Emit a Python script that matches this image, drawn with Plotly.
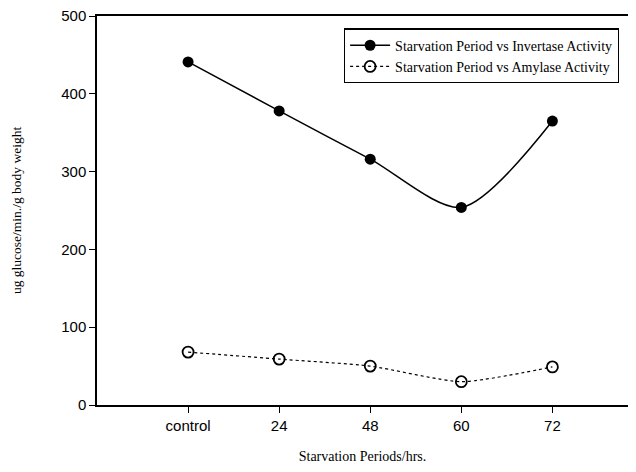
import plotly.graph_objects as go

categories = ["control", "24", "48", "60", "72"]
invertase = [441, 378, 316, 254, 365]
amylase = [68, 59, 50, 30, 49]
y_ticks = [0, 100, 200, 300, 400, 500]

xidx = list(range(len(categories)))

fig = go.Figure()
fig.add_trace(go.Scatter(
    x=xidx, y=invertase, mode="lines+markers",
    name="Starvation Period vs Invertase Activity",
    line=dict(color="black", width=1.5, shape="spline", smoothing=0.8),
    marker=dict(symbol="circle", size=11, color="black"),
))
fig.add_trace(go.Scatter(
    x=xidx, y=amylase, mode="lines+markers",
    name="Starvation Period vs Amylase Activity",
    line=dict(color="black", width=1.2, dash="dot", shape="spline", smoothing=0.6),
    marker=dict(symbol="circle-open", size=11, color="black", line=dict(width=1.8)),
))

# the page body has an 8px default margin, so the figure is shrunk to fit
fig.update_layout(
    width=620, height=456,
    margin=dict(l=89, r=0, t=8, b=59),
    paper_bgcolor="white", plot_bgcolor="white",
    showlegend=True,
    legend=dict(
        x=0.465, y=0.968, xanchor="left", yanchor="top",
        bordercolor="black", borderwidth=1.2, bgcolor="white",
        font=dict(family="Liberation Serif", size=14, color="black"),
        tracegroupgap=0, itemwidth=40,
    ),
    xaxis=dict(
        range=[-1, 4.83], tickmode="array", tickvals=xidx, ticktext=categories,
        automargin=False,
        showline=True, linecolor="black", linewidth=1.5, mirror=True,
        ticks="outside", ticklen=6, tickcolor="black", showgrid=False, zeroline=False,
        tickfont=dict(family="Liberation Sans", size=15, color="black"),
        title=dict(text="Starvation Periods/hrs.", standoff=30,
                   font=dict(family="Liberation Serif", size=14, color="black")),
    ),
    yaxis=dict(
        range=[0, 500], tickmode="array", tickvals=y_ticks,
        automargin=False, ticklabeloverflow="allow",
        showline=True, linecolor="black", linewidth=1.5,
        ticks="outside", ticklen=6, tickcolor="black", showgrid=False, zeroline=False,
        tickfont=dict(family="Liberation Sans", size=15, color="black"),
        title=dict(text="ug glucose/min./g body weight", standoff=36,
                   font=dict(family="Liberation Serif", size=13.5, color="black")),
    ),
)

fig.write_html("out.html")
